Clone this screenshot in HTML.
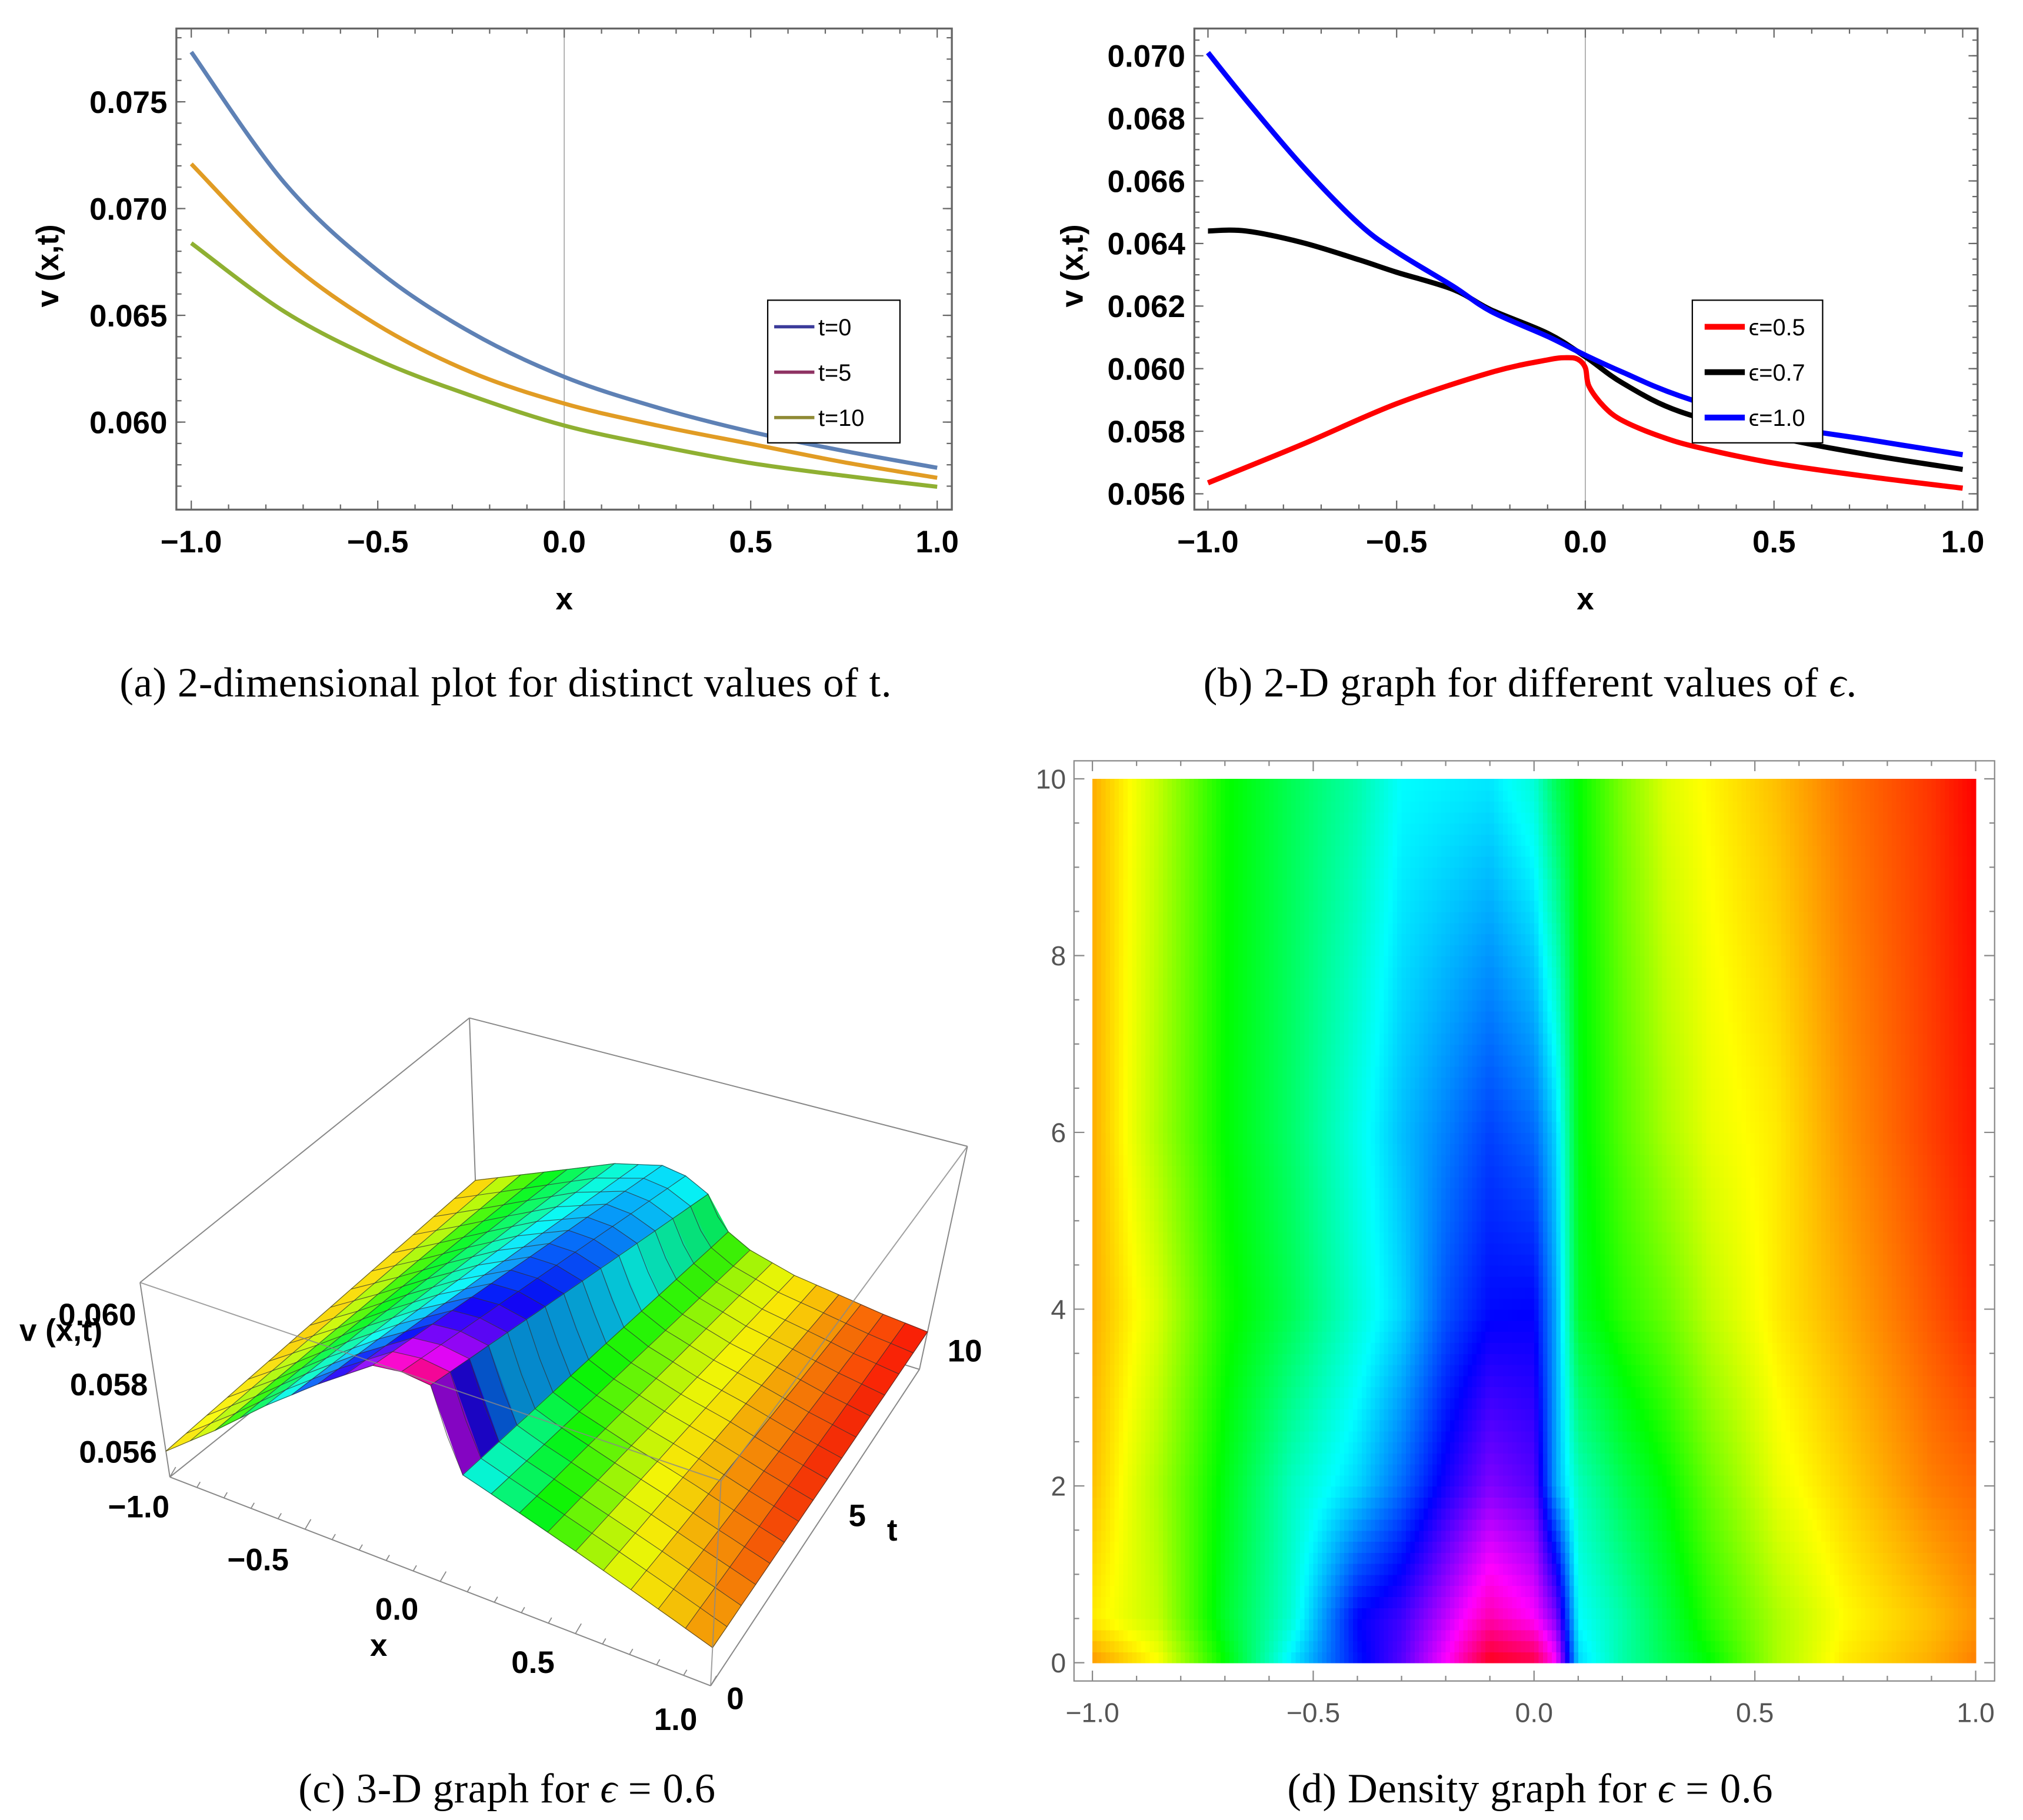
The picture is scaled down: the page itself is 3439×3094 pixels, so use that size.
<!DOCTYPE html>
<html><head><meta charset="utf-8"><style>
html,body{margin:0;padding:0;background:#fff}
svg{display:block}
.tk{font-family:"Liberation Sans",sans-serif;font-weight:bold;font-size:24px;fill:#000}
.gk{font-family:"Liberation Sans",sans-serif;font-size:21px;fill:#555}
.cap{font-family:"Liberation Serif",serif;font-size:32px;fill:#000;letter-spacing:0.3px}
.lg{font-family:"Liberation Sans",sans-serif;font-size:18px;fill:#000}
</style></head><body>
<svg id="root" width="3439" height="3094" viewBox="0 0 1560 1403.5" preserveAspectRatio="none" xmlns="http://www.w3.org/2000/svg">
<rect width="1560" height="1403.5" fill="#fff"/>
<g id="pa"></g>
<g id="pb"></g>
<g id="pc"></g>
<g id="pd"></g>
<text class="cap" x="390" y="537" text-anchor="middle">(a)  2-dimensional plot for distinct values of t.</text>
<text class="cap" x="1180" y="537" text-anchor="middle">(b)  2-D graph for different values of <tspan font-style="italic">ϵ</tspan>.</text>
<text class="cap" x="391" y="1390" text-anchor="middle">(c)  3-D graph for <tspan font-style="italic">ϵ</tspan> = 0.6</text>
<text class="cap" x="1180" y="1390" text-anchor="middle">(d)  Density graph for <tspan font-style="italic">ϵ</tspan> = 0.6</text>
</svg>
<script>
// ---------- Panel (a) data ----------
const aX = [-1,-0.75,-0.5,-0.25,0,0.25,0.5,0.75,1];
const aT0 = [0.07733,0.0712,0.0671,0.0642,0.06212,0.06068,0.05955,0.05865,0.05786];
const aT5 = [0.07209,0.06766,0.06454,0.06234,0.06087,0.05984,0.05898,0.05812,0.05739];
const aT10 = [0.06838,0.06517,0.06291,0.06124,0.05984,0.05889,0.05808,0.05749,0.05697];
const aYTicks = [0.060,0.065,0.070,0.075];
const aYLabels = ["0.060","0.065","0.070","0.075"];
const xTicks = [-1,-0.5,0,0.5,1];
const xLabels = ["\u22121.0","\u22120.5","0.0","0.5","1.0"];
// ---------- Panel (b) data ----------
const bXr = [-1,-0.75,-0.5,-0.25,-0.1,-0.05,-0.02,0,0.01,0.05,0.1,0.2,0.3,0.5,0.75,1];
const bRed = [0.05635,0.05758,0.05888,0.05988,0.06028,0.06035,0.0603,0.06003,0.05943,0.05878,0.05833,0.05783,0.05748,0.05698,0.05655,0.05618];
const bX = [-1,-0.9,-0.75,-0.6,-0.5,-0.35,-0.25,-0.1,0,0.1,0.25,0.5,0.75,1];
const bBlack = [0.0644,0.0644,0.06403,0.06348,0.06308,0.06253,0.06188,0.06113,0.06038,0.05953,0.05863,0.05783,0.05725,0.05678];
const bBlue = [0.0701,0.0686,0.06648,0.06463,0.06373,0.06263,0.06183,0.06103,0.06043,0.05988,0.05913,0.05823,0.05773,0.05725];
const bYTicks = [0.056,0.058,0.060,0.062,0.064,0.066,0.068,0.070];
const bYLabels = ["0.056","0.058","0.060","0.062","0.064","0.066","0.068","0.070"];
// ---------- Density data (values x1e-3) ----------
const dX = [-1,-0.85,-0.7,-0.55,-0.4,-0.3,-0.2,-0.1,0,0.05,0.1,0.2,0.3,0.4,0.55,0.7,0.9,1];
const dT = [0,0.5,2,4,6,10];
const dRow0 = [56.60,56.88,57.57,58.31,58.88,59.16,59.62,60.24,60.13,59.62,58.36,58.02,57.79,57.57,57.11,56.83,56.66,56.54];
const dRow05 = [56.83,57.05,57.68,58.14,58.93,59.10,59.45,59.84,59.62,59.28,58.25,58.02,57.74,57.45,57.11,56.88,56.71,56.60];
const dRow2 = [56.71,57.11,57.62,58.08,58.36,58.65,58.99,59.28,59.16,58.48,58.08,57.79,57.57,57.28,56.94,56.77,56.54,56.48];
const dRow4 = [56.66,56.99,57.51,57.79,58.14,58.36,58.71,58.91,58.93,58.48,57.68,57.45,57.28,57.05,56.83,56.66,56.43,56.31];
const dRow6 = [56.66,57.11,57.57,57.85,58.19,58.42,58.59,58.76,58.65,58.36,57.62,57.34,57.11,56.94,56.83,56.60,56.37,56.26];
const dRow10 = [56.66,57.05,57.54,57.79,58.02,58.25,58.28,58.31,58.14,57.79,57.57,57.23,56.97,56.86,56.71,56.52,56.34,56.20];
const dTTicks = [0,2,4,6,8,10];
const dXTickLabels = ["\u22121.0","\u22120.5","0.0","0.5","1.0"];
// ---------- 3D surface data (v x1e-3) ----------
const sX = [-1,-0.8,-0.6,-0.4,-0.2,-0.1,0,0.05,0.1,0.2,0.4,0.6,0.8,1];
const sT = [0,5,10];
const sRow0 = [56.0,57.2,58.5,59.7,60.8,60.9,60.8,59.5,58.55,58.3,57.8,57.3,56.8,56.3];
const sRow5 = [56.3,57.15,58.05,58.9,59.6,59.6,59.4,58.6,57.9,57.6,57.2,56.9,56.55,56.25];
const sRow10 = [56.6,57.1,57.6,58.1,58.4,58.3,58.0,57.5,57.2,56.9,56.6,56.45,56.3,56.2];

const NS="http://www.w3.org/2000/svg";
function mk(tag,attrs,parent){const e=document.createElementNS(NS,tag);for(const k in attrs)e.setAttribute(k,attrs[k]);parent.appendChild(e);return e;}
function smooth(p){let d='M'+p[0][0].toFixed(2)+','+p[0][1].toFixed(2);for(let i=0;i<p.length-1;i++){const p0=p[i-1]||p[i],p1=p[i],p2=p[i+1],p3=p[i+2]||p2;const c1=[p1[0]+(p2[0]-p0[0])/6,p1[1]+(p2[1]-p0[1])/6],c2=[p2[0]-(p3[0]-p1[0])/6,p2[1]-(p3[1]-p1[1])/6];d+=' C'+c1[0].toFixed(2)+','+c1[1].toFixed(2)+' '+c2[0].toFixed(2)+','+c2[1].toFixed(2)+' '+p2[0].toFixed(2)+','+p2[1].toFixed(2);}return d;}
function interp(xs,ys,x){for(let i=0;i<xs.length-1;i++){if(x<=xs[i+1]){const f=(x-xs[i])/(xs[i+1]-xs[i]);return ys[i]+f*(ys[i+1]-ys[i]);}}return ys[ys.length-1];}

function linePanel(g,o){
  const sx=v=>o.x0+(v+1)/2*(o.x1-o.x0);
  const sy=v=>o.yA+(v-o.vA)/(o.vB-o.vA)*(o.yB-o.yA);
  const zl=mk('line',{x1:sx(0),x2:sx(0),y1:o.top,y2:o.bot,stroke:'#aaa','stroke-width':0.8},g);
  
  
  const fr=mk('rect',{x:o.L,y:o.top,width:o.R-o.L,height:o.bot-o.top,fill:'none',stroke:'#666','stroke-width':1.5},g);
  
  
  for(let k=-10;k<=10;k++){const v=k/10,X=sx(v),len=(k%5===0)?7:4;
    mk('line',{x1:X,x2:X,y1:o.bot,y2:o.bot-len,stroke:'#666','stroke-width':1},g);
    mk('line',{x1:X,x2:X,y1:o.top,y2:o.top+len,stroke:'#666','stroke-width':1},g);}
  xTicks.forEach((v,i)=>{const t=mk('text',{class:'tk',x:sx(v),y:426,'text-anchor':'middle'},g);t.textContent=xLabels[i];
    
    });
  for(let v=o.minA;v<=o.minB+1e-9;v+=o.minStep){const Y=sy(v);if(Y<o.top+2||Y>o.bot-2)continue;
    mk('line',{x1:o.L,x2:o.L+4,y1:Y,y2:Y,stroke:'#666','stroke-width':1},g);
    mk('line',{x1:o.R,x2:o.R-4,y1:Y,y2:Y,stroke:'#666','stroke-width':1},g);}
  o.yTicks.forEach((v,i)=>{const Y=sy(v);
    mk('line',{x1:o.L,x2:o.L+7,y1:Y,y2:Y,stroke:'#666','stroke-width':1},g);
    mk('line',{x1:o.R,x2:o.R-7,y1:Y,y2:Y,stroke:'#666','stroke-width':1},g);
    const t=mk('text',{class:'tk',x:o.L-7,y:Y+8.5,'text-anchor':'end'},g);t.textContent=o.yLabels[i];
    
    });
  const xt=mk('text',{class:'tk',x:sx(0),y:470,'text-anchor':'middle'},g);xt.textContent='x';
  
  
  const yt=mk('text',{class:'tk',x:0,y:0,'text-anchor':'middle',transform:'translate('+o.ytx+',205) rotate(-90)'},g);yt.textContent='v (x,t)';
  
  
  o.series.forEach(s=>{const pts=s.x.map((x,i)=>[sx(x),sy(s.y[i])]);
    const p=mk('path',{d:smooth(pts),fill:'none',stroke:s.c,'stroke-width':o.sw,'stroke-linejoin':'round'},g);
    
    });
  const lg=mk('g',{},g);
  
  
  mk('rect',{x:o.lx,y:231.5,width:o.lwid,height:110,fill:'#fff',stroke:'#000','stroke-width':1},lg);
  o.legend.forEach((e,i)=>{const Y=252+i*35;
    mk('line',{x1:o.lx+o.l1,x2:o.lx+o.l2,y1:Y,y2:Y,stroke:e.c,'stroke-width':o.lsw},lg);
    const t=mk('text',{class:'lg',x:o.lx+o.l2+3,y:Y+6.5},lg);t.textContent=e.t;
    
    });
}
linePanel(document.getElementById('pa'),{x0:147.5,x1:722.7,L:136,R:734,top:22,bot:393,vA:0.075,yA:78.5,vB:0.060,yB:325.5,
  yTicks:aYTicks,yLabels:aYLabels,minA:0.057,minB:0.078,minStep:0.001,ytx:45,sw:3.2,lx:592,lwid:102,l1:5,l2:36,lsw:2.5,
  series:[{x:aX,y:aT0,c:'#5e81b5',name:'curve-t0'},{x:aX,y:aT5,c:'#e19c24',name:'curve-t5'},{x:aX,y:aT10,c:'#8fb032',name:'curve-t10'}],
  legend:[{t:'t=0',c:'#3b3b9a'},{t:'t=5',c:'#8f3363'},{t:'t=10',c:'#8f8a35'}]});
linePanel(document.getElementById('pb'),{x0:931.5,x1:1513.5,L:921,R:1525,top:22,bot:393,vA:0.070,yA:43.0,vB:0.056,yB:380.8,
  yTicks:bYTicks,yLabels:bYLabels,minA:0.0555,minB:0.0705,minStep:0.0005,ytx:835,sw:4,lx:1305,lwid:100.5,l1:9.5,l2:40.5,lsw:4.5,
  series:[{x:bXr,y:bRed,c:'#ff0000',name:'curve-eps-0.5'},{x:bX,y:bBlack,c:'#000000',name:'curve-eps-0.7'},{x:bX,y:bBlue,c:'#0000ff',name:'curve-eps-1.0'}],
  legend:[{t:'\u03f5=0.5',c:'#ff0000'},{t:'\u03f5=0.7',c:'#000'},{t:'\u03f5=1.0',c:'#0000ff'}]});

// ---------- density ----------
const dRows=[dRow0,dRow05,dRow2,dRow4,dRow6,dRow10];
function dens(x,t){const r=dRows.map(row=>interp(dX,row,x));return interp(dT,r,t);}
function hueOf(v){let h=(v-56.20)/4.1*360;h=((h%360)+360)%360;return h;}
(function(){
  const g=document.getElementById('pd');
  const X0=842.4,X1=1523.5,Y0=1282.2,Y1=600.6;
  const sx=x=>X0+(x+1)/2*(X1-X0), sy=t=>Y0+(t/10)*(Y1-Y0);
  const cells=mk('g',{'shape-rendering':'crispEdges'},g);
  
  
  const NX=200,NT=80;
  for(let j=0;j<NT;j++){const t0=j*10/NT,t1=(j+1)*10/NT,tm=(t0+t1)/2;
    for(let i=0;i<NX;i++){const x0=-1+2*i/NX,x1=-1+2*(i+1)/NX,xm=(x0+x1)/2;
      const h=hueOf(dens(xm,tm));
      const r=mk('rect',{x:sx(x0).toFixed(2),y:sy(t1).toFixed(2),width:(sx(x1)-sx(x0)+0.5).toFixed(2),height:(sy(t0)-sy(t1)+0.5).toFixed(2),fill:'hsl('+h.toFixed(1)+',100%,50%)'},cells);
      
      }}
  const L=828.2,R=1538.1,T=586.7,B=1296.3;
  const fr=mk('rect',{x:L,y:T,width:R-L,height:B-T,fill:'none',stroke:'#888','stroke-width':1},g);
  
  
  for(let k=0;k<=20;k++){const Y=sy(k/2),len=(k%4===0)?8:4;
    mk('line',{x1:L,x2:L+len,y1:Y,y2:Y,stroke:'#888','stroke-width':1},g);
    mk('line',{x1:R,x2:R-len,y1:Y,y2:Y,stroke:'#888','stroke-width':1},g);}
  for(let k=-10;k<=10;k++){const X=sx(k/10),len=(k%5===0)?8:4;
    mk('line',{x1:X,x2:X,y1:B,y2:B-len,stroke:'#888','stroke-width':1},g);
    mk('line',{x1:X,x2:X,y1:T,y2:T+len,stroke:'#888','stroke-width':1},g);}
  dTTicks.forEach(t=>{const Y=sy(t);
    const tx=mk('text',{class:'gk',x:822,y:Y+7.5,'text-anchor':'end'},g);tx.textContent=String(t);
    
    });
  xTicks.forEach((x,i)=>{const X=sx(x);
    const tx=mk('text',{class:'gk',x:X,y:1328,'text-anchor':'middle'},g);tx.textContent=dXTickLabels[i];
    
    });
})();

// ---------- 3D ----------
(function(){
  const g=document.getElementById('pc');
  const sRows=[sRow0,sRow5,sRow10];
  const height=(x,t)=>interp(sT,sRows.map(r=>interp(sX,r,x)),t);
  const VB=55.25,VT=60.9;
  const B0=[131,1139],B1=[548,1300],B2=[368,949.5],B3=[709,1056];
  const T0=[108,989],T1=[556,1142],T2=[362,785],T3=[746,884];
  const bil=(a,b,c,d,u,w)=>[(1-u)*(1-w)*a[0]+u*(1-w)*b[0]+(1-u)*w*c[0]+u*w*d[0],(1-u)*(1-w)*a[1]+u*(1-w)*b[1]+(1-u)*w*c[1]+u*w*d[1]];
  const P=(x,t,v)=>{const u=(x+1)/2,w=t/10,r=(v-VB)/(VT-VB);const b=bil(B0,B1,B2,B3,u,w),tp=bil(T0,T1,T2,T3,u,w);return [b[0]+r*(tp[0]-b[0]),b[1]+r*(tp[1]-b[1])];};
  const edge=(a,b,name,op)=>{const l=mk('line',{x1:a[0],y1:a[1],x2:b[0],y2:b[1],stroke:'#888','stroke-width':0.9,'stroke-opacity':op||1},g);
    
    };
  edge(B0,B2,'box-edge');edge(B2,B3,'box-edge');edge(B2,T2,'box-edge');edge(B3,T3,'box-edge');
  edge(T0,T2,'box-edge');edge(T2,T3,'box-edge');edge(B0,T0,'box-edge');
  const surf=mk('g',{},g);
  
  
  const NX=20,NT=15;
  for(let j=NT-1;j>=0;j--){const t0=j*10/NT,t1=(j+1)*10/NT;
    for(let i=0;i<NX;i++){const x0=-1+2*i/NX,x1=-1+2*(i+1)/NX;
      const q=[P(x0,t0,height(x0,t0)),P(x1,t0,height(x1,t0)),P(x1,t1,height(x1,t1)),P(x0,t1,height(x0,t1))];
      const h=hueOf(dens((x0+x1)/2,(t0+t1)/2));
      const slope=(height(x1,t0)-height(x0,t0));
      const Lt=Math.max(35,Math.min(55,50+slope*5));
      const p=mk('polygon',{points:q.map(a=>a[0].toFixed(1)+','+a[1].toFixed(1)).join(' '),fill:'hsl('+h.toFixed(1)+',95%,'+Lt.toFixed(0)+'%)',stroke:'hsl('+h.toFixed(1)+',95%,'+Lt.toFixed(0)+'%)','stroke-width':0.6},surf);
      
      }}
  const mesh=mk('g',{fill:'none',stroke:'#333','stroke-width':0.5,'stroke-opacity':0.8},g);
  
  
  for(let j=0;j<=NT;j++){const t=j*10/NT;let d='';for(let i=0;i<=NX*2;i++){const x=-1+i/NX;const p=P(x,t,height(x,t));d+=(i?'L':'M')+p[0].toFixed(1)+','+p[1].toFixed(1);}mk('path',{d:d},mesh);}
  for(let i=0;i<=NX;i++){const x=-1+2*i/NX;let d='';for(let j=0;j<=NT*2;j++){const t=j*5/NT;const p=P(x,t,height(x,t));d+=(j?'L':'M')+p[0].toFixed(1)+','+p[1].toFixed(1);}mk('path',{d:d},mesh);}
  edge(B0,B1,'box-edge');edge(B1,B3,'box-edge');edge(B1,T1,'box-edge',0.8);edge(T0,T1,'box-edge',0.8);edge(T1,T3,'box-edge',0.8);
  for(let k=0;k<=20;k++){const x=-1+k/10;const a=P(x,0,VB);const len=(k%5===0)?9:5;
    mk('line',{x1:a[0],y1:a[1],x2:a[0]+len*0.5,y2:a[1]-len*0.85,stroke:'#888','stroke-width':0.8},g);}
  const labels=[["v (x,t)",15,1034,'start','v-axis-title'],["0.060",105,1022,'end','v-tick-label'],["0.058",114,1076,'end','v-tick-label'],["0.056",121,1128,'end','v-tick-label'],
    ["\u22121.0",107,1170,'middle','x-tick-label'],["\u22120.5",199,1211,'middle','x-tick-label'],["0.0",306,1249,'middle','x-tick-label'],["0.5",411,1290,'middle','x-tick-label'],["1.0",521,1334,'middle','x-tick-label'],
    ["x",292,1277,'middle','x-axis-title'],["0",567,1318,'middle','t-tick-label'],["5",661,1177,'middle','t-tick-label'],["10",744,1050,'middle','t-tick-label'],["t",688,1188,'middle','t-axis-title']];
  labels.forEach(l=>{const t=mk('text',{class:'tk',x:l[1],y:l[2],'text-anchor':l[3]},g);t.textContent=l[0];
    
    });
})();
</script>
</body></html>
